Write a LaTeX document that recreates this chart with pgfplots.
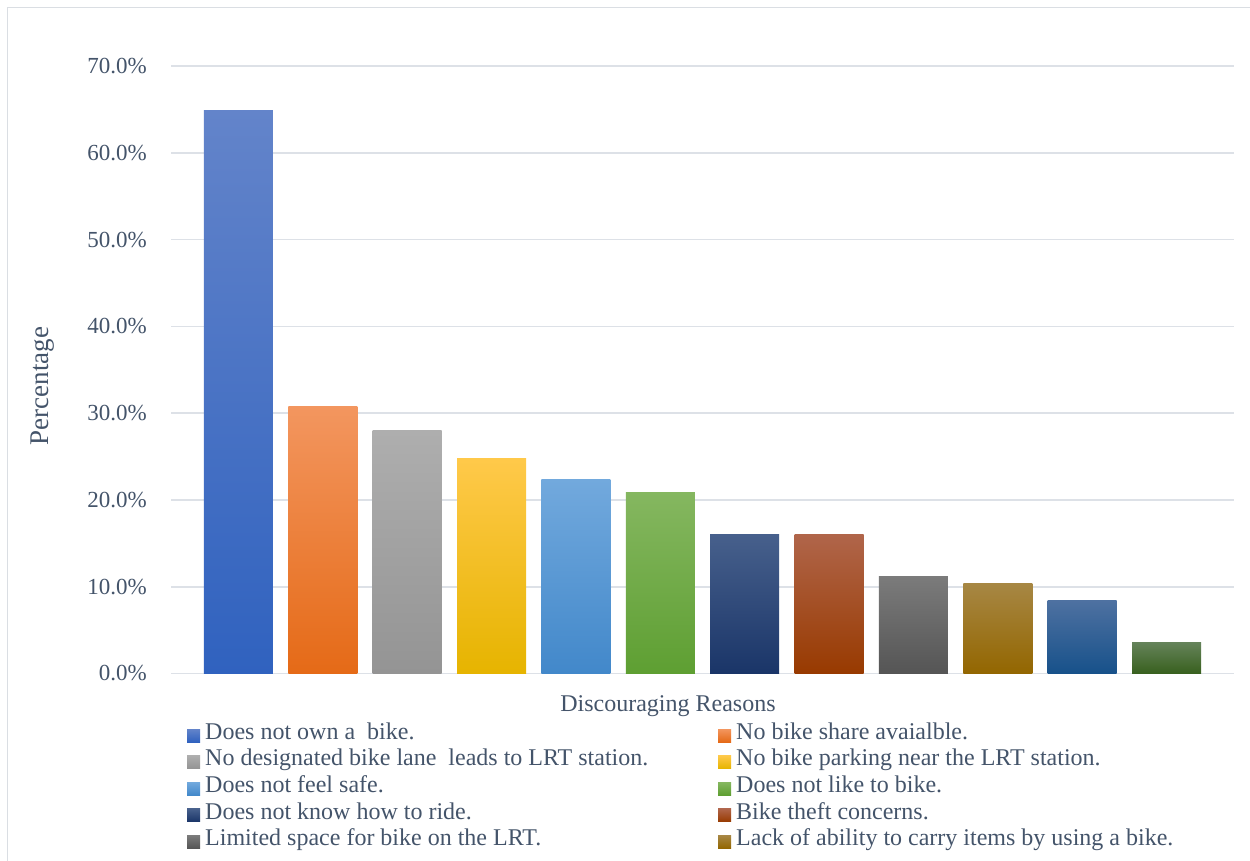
\documentclass[border=0pt]{standalone}
\usepackage{pgfplots}
\pgfplotsset{compat=1.18}
\usepackage{fontspec}
\setmainfont{Liberation Serif}

\definecolor{txt}{HTML}{44546A}
\definecolor{gridc}{HTML}{DDE1E7}
\definecolor{framec}{HTML}{DADEE3}
% bar colours: lighter at the top, base tone at the bottom
\definecolor{c1t}{HTML}{6384CA}\definecolor{c1b}{HTML}{3062BF}
\definecolor{c2t}{HTML}{F3965F}\definecolor{c2b}{HTML}{E56A17}
\definecolor{c3t}{HTML}{AEAEAE}\definecolor{c3b}{HTML}{949494}
\definecolor{c4t}{HTML}{FFC94A}\definecolor{c4b}{HTML}{E6B400}
\definecolor{c5t}{HTML}{72A9DD}\definecolor{c5b}{HTML}{4288CA}
\definecolor{c6t}{HTML}{85B760}\definecolor{c6b}{HTML}{5E9F32}
\definecolor{c7t}{HTML}{47608C}\definecolor{c7b}{HTML}{1A3568}
\definecolor{c8t}{HTML}{B0654A}\definecolor{c8b}{HTML}{983A00}
\definecolor{c9t}{HTML}{7B7B7B}\definecolor{c9b}{HTML}{555555}
\definecolor{c10t}{HTML}{A78744}\definecolor{c10b}{HTML}{936600}
\definecolor{c11t}{HTML}{4E71A1}\definecolor{c11b}{HTML}{17518A}
\definecolor{c12t}{HTML}{65835A}\definecolor{c12b}{HTML}{38601E}

\begin{document}
\begin{tikzpicture}
\useasboundingbox (0bp,0bp) rectangle (1250bp,861bp);
\clip (0bp,0bp) rectangle (1250bp,861bp);
\draw[framec, line width=1.5bp] (7.5bp,-20bp) rectangle (1280bp,853.5bp);

\begin{axis}[
  at={(171bp,187.5bp)}, anchor=south west,
  scale only axis, width=1063bp, height=607.5bp,
  xmin=-0.8, xmax=11.8, ymin=0, ymax=70,
  axis line style={draw=none},
  major tick length=0pt,
  xtick=\empty,
  ytick={0,10,...,70},
  yticklabel={\pgfmathprintnumber[fixed,fixed zerofill,precision=1,assume math mode=true]{\tick}\%},
  yticklabel style={font=\fontsize{23bp}{26bp}\selectfont, text=txt, inner sep=0pt, anchor=east, xshift=-24bp},
  ymajorgrids, grid style={gridc, line width=1.6bp},
  ybar, bar width=69bp, bar shift=0pt,
  legend columns=2,
  legend cell align=left,
  legend image code/.code={\path[#1, draw=none] (0bp,-6.5bp) rectangle (13bp,6.5bp);},
  legend style={at={(16bp,-48.5bp)}, anchor=north west, draw=none, fill=none,
    font=\fontsize{24bp}{26bp}\selectfont, text=txt,
    inner sep=0pt, row sep=0pt, column sep=0pt,
    nodes={inner sep=0pt, text height=17bp, text depth=9.6bp},
    /tikz/every even column/.append style={column sep=0pt},
    /tikz/every odd column/.append style={column sep=5bp}},
]
\addplot[draw=none, top color=c1t, bottom color=c1b] coordinates {(0,64.9)};
\addlegendentry{\makebox[513bp][l]{Does not own a\ \ bike.}}
\addplot[draw=none, top color=c2t, bottom color=c2b] coordinates {(1,30.8)};
\addlegendentry{No bike share avaialble.}
\addplot[draw=none, top color=c3t, bottom color=c3b] coordinates {(2,28.0)};
\addlegendentry{\makebox[513bp][l]{No designated bike lane\ \ leads to LRT station.}}
\addplot[draw=none, top color=c4t, bottom color=c4b] coordinates {(3,24.8)};
\addlegendentry{No bike parking near the LRT station.}
\addplot[draw=none, top color=c5t, bottom color=c5b] coordinates {(4,22.4)};
\addlegendentry{\makebox[513bp][l]{Does not feel safe.}}
\addplot[draw=none, top color=c6t, bottom color=c6b] coordinates {(5,20.9)};
\addlegendentry{Does not like to bike.}
\addplot[draw=none, top color=c7t, bottom color=c7b] coordinates {(6,16.0)};
\addlegendentry{\makebox[513bp][l]{Does not know how to ride.}}
\addplot[draw=none, top color=c8t, bottom color=c8b] coordinates {(7,16.0)};
\addlegendentry{Bike theft concerns.}
\addplot[draw=none, top color=c9t, bottom color=c9b] coordinates {(8,11.2)};
\addlegendentry{\makebox[513bp][l]{Limited space for bike on the LRT.}}
\addplot[draw=none, top color=c10t, bottom color=c10b] coordinates {(9,10.4)};
\addlegendentry{Lack of ability to carry items by using a bike.}
\addplot[draw=none, top color=c11t, bottom color=c11b, forget plot] coordinates {(10,8.4)};
\addplot[draw=none, top color=c12t, bottom color=c12b, forget plot] coordinates {(11,3.6)};
\end{axis}

\node[text=txt, font=\fontsize{24bp}{26bp}\selectfont] at (668bp,155bp) {Discouraging Reasons};
\node[text=txt, font=\fontsize{27bp}{30bp}\selectfont, rotate=90] at (43bp,475bp) {Percentage};
\end{tikzpicture}
\end{document}
